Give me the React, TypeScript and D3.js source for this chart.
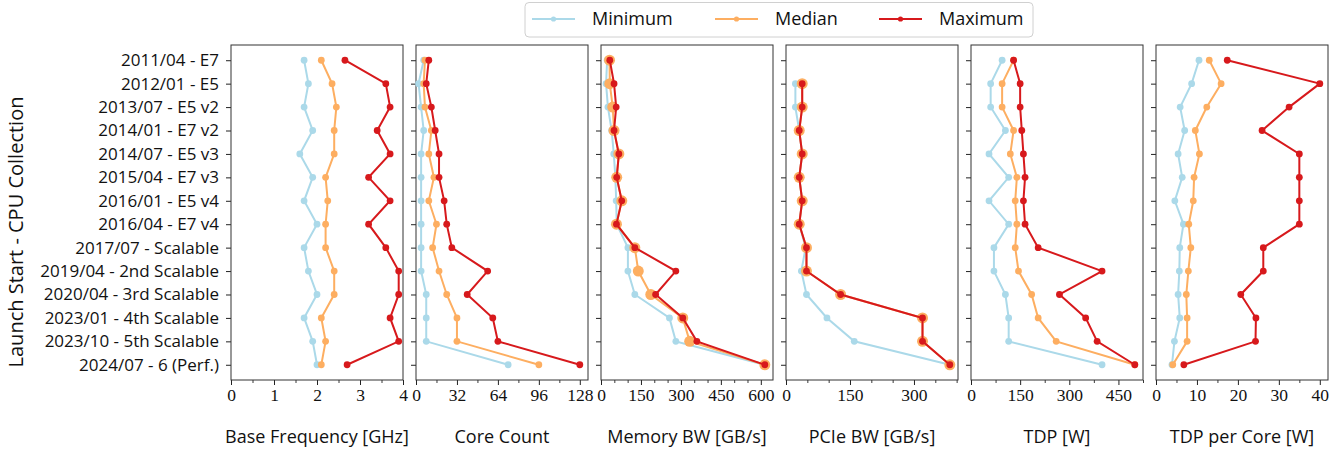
import React, { useEffect, useRef } from 'react';
import * as d3 from 'd3';

// launch generations (y axis, top to bottom)
const categories = [
  '2011/04 - E7',
  '2012/01 - E5',
  '2013/07 - E5 v2',
  '2014/01 - E7 v2',
  '2014/07 - E5 v3',
  '2015/04 - E7 v3',
  '2016/01 - E5 v4',
  '2016/04 - E7 v4',
  '2017/07 - Scalable',
  '2019/04 - 2nd Scalable',
  '2020/04 - 3rd Scalable',
  '2023/01 - 4th Scalable',
  '2023/10 - 5th Scalable',
  '2024/07 - 6 (Perf.)',
];

const seriesNames = ['Minimum', 'Median', 'Maximum'];

const freqMin = [1.7, 1.8, 1.7, 1.9, 1.6, 1.9, 1.7, 2.0, 1.7, 1.8, 2.0, 1.7, 1.9, 2.0];
const freqMed = [2.1, 2.35, 2.45, 2.4, 2.4, 2.2, 2.25, 2.2, 2.2, 2.4, 2.4, 2.1, 2.2, 2.1];
const freqMax = [2.65, 3.6, 3.7, 3.4, 3.7, 3.2, 3.7, 3.2, 3.6, 3.9, 3.9, 3.7, 3.9, 2.7];

const coresMin = [6, 2, 4, 6, 4, 4, 4, 4, 4, 4, 8, 8, 8, 72];
const coresMed = [7, 6, 7, 12, 10, 14, 10, 16, 13, 18, 24, 32, 32, 96];
const coresMax = [10, 8, 12, 15, 18, 18, 22, 24, 28, 56, 40, 60, 64, 128];

const memMin = [23, 19, 26, 40, 48, 54, 57, 59, 101, 101, 127, 257, 281, 614];
const memMed = [32, 33, 44, 49, 67, 59, 78, 58, 127, 140, 187, 307, 333, 615];
const memMax = [33, 49, 57, 49, 67, 59, 78, 58, 127, 281, 205, 307, 360, 615];

const pcieMin = [null, 22, 22, 31, 38, 31, 38, 31, 46, 36, 48, 96, 160, 384];
const pcieMed = [null, 38, 38, 31, 38, 31, 38, 31, 48, 48, 128, 320, 320, 384];
const pcieMax = [null, 38, 38, 31, 38, 31, 38, 31, 48, 48, 128, 320, 320, 384];

const tdpMin = [95, 60, 60, 105, 55, 115, 55, 115, 70, 70, 105, 115, 115, 400];
const tdpMed = [130, 95, 95, 130, 120, 140, 135, 140, 135, 145, 185, 205, 260, 500];
const tdpMax = [130, 150, 150, 155, 160, 165, 160, 165, 205, 400, 270, 350, 385, 500];

const tdpCoreMin = [10.5, 8.7, 5.9, 7.0, 5.4, 6.4, 4.6, 6.7, 5.8, 5.7, 5.4, 5.8, 4.5, 3.9];
const tdpCoreMed = [13.0, 15.9, 12.4, 9.6, 10.6, 9.3, 9.1, 8.0, 8.5, 7.9, 7.4, 7.6, 7.6, 4.1];
const tdpCoreMax = [17.4, 40, 32.5, 25.9, 35, 35, 35, 35, 26.2, 26.2, 20.7, 24.4, 24.3, 6.8];

const titles = [
  'Base Frequency [GHz]',
  'Core Count',
  'Memory BW [GB/s]',
  'PCIe BW [GB/s]',
  'TDP [W]',
  'TDP per Core [W]',
];
const tickValues = [
  [0, 1, 2, 3, 4],
  [0, 32, 64, 96, 128],
  [0, 150, 300, 450, 600],
  [0, 150, 300],
  [0, 150, 300, 450],
  [0, 10, 20, 30, 40],
];
const minorSteps = [0.5, 16, 50, 50, 75, 5];

const panelData = [
  [freqMin, freqMed, freqMax],
  [coresMin, coresMed, coresMax],
  [memMin, memMed, memMax],
  [pcieMin, pcieMed, pcieMax],
  [tdpMin, tdpMed, tdpMax],
  [tdpCoreMin, tdpCoreMed, tdpCoreMax],
];

const colors = ['#abd9e9', '#fdae61', '#d7191c'];

const sans = "'Open Sans', 'Noto Sans', sans-serif";
const serif = "'Liberation Serif', 'DejaVu Serif', serif";

const App = () => {
  const ref = useRef<SVGSVGElement>(null);

  useEffect(() => {
    const svg = d3.select(ref.current);
    svg.selectAll('*').remove();

    const top = 45;
    const bottom = 380;
    const panelW = 172;
    const panelStep = 185;
    const firstLeft = 231;

    const y = d3.scalePoint<string>()
      .domain(categories)
      .range([top, bottom])
      .padding(0.65);

    panelData.forEach((series, p) => {
      const left = firstLeft + p * panelStep;
      const allVals = series.flat().filter(v => v != null) as number[];
      const xMax = p === 0 ? 4 : d3.max(allVals)! * 1.05;
      const x = d3.scaleLinear().domain([0, xMax]).range([left, left + panelW]);

      const g = svg.append('g');

      // minor ticks
      const minor = d3.range(0, xMax + 1e-9, minorSteps[p]).filter(v => !tickValues[p].includes(v));
      g.append('g')
        .attr('transform', `translate(0,${bottom})`)
        .call(d3.axisBottom(x).tickValues(minor).tickSize(3).tickSizeOuter(0).tickFormat(() => ''))
        .call(a => a.select('.domain').remove())
        .selectAll('line').attr('stroke', '#222').attr('stroke-width', 0.9);

      // major ticks
      const xa = g.append('g')
        .attr('transform', `translate(0,${bottom})`)
        .call(d3.axisBottom(x).tickValues(tickValues[p]).tickSize(5).tickSizeOuter(0).tickPadding(4).tickFormat(d3.format('d')));
      xa.select('.domain').remove();
      xa.selectAll('line').attr('stroke', '#222').attr('stroke-width', 1);
      xa.selectAll('text')
        .attr('fill', '#111')
        .style('font-family', serif)
        .style('font-size', '17.5px');

      // y ticks
      const ya = g.append('g')
        .attr('transform', `translate(${left},0)`)
        .call(d3.axisLeft(y).tickSize(5).tickSizeOuter(0).tickPadding(7));
      ya.select('.domain').remove();
      ya.selectAll('line').attr('stroke', '#222').attr('stroke-width', 1);
      if (p === 0) {
        ya.selectAll('text')
          .attr('fill', '#111')
          .style('font-family', sans)
          .style('font-size', '17px');
      } else {
        ya.selectAll('text').remove();
      }

      // frame
      g.append('rect')
        .attr('x', left)
        .attr('y', top)
        .attr('width', panelW)
        .attr('height', bottom - top)
        .attr('fill', 'none')
        .attr('stroke', '#333')
        .attr('stroke-width', 1);

      // x title
      g.append('text')
        .attr('x', left + panelW / 2)
        .attr('y', 443)
        .attr('text-anchor', 'middle')
        .attr('fill', '#111')
        .style('font-family', sans)
        .style('font-size', '18px')
        .text(titles[p]);

      series.forEach((vals, s) => {
        const pts = vals
          .map((v, i) => ({ v, c: categories[i] }))
          .filter(d => d.v != null) as { v: number; c: string }[];
        const line = d3.line<{ v: number; c: string }>()
          .x(d => x(d.v))
          .y(d => y(d.c)!);
        g.append('path')
          .datum(pts)
          .attr('d', line)
          .attr('fill', 'none')
          .attr('stroke', colors[s])
          .attr('stroke-width', 2);
        const r = s === 1 && (p === 2 || p === 3) ? 5.5 : 3.4;
        g.selectAll(`.m${s}`)
          .data(pts)
          .enter().append('circle')
          .attr('class', `m${s}`)
          .attr('cx', d => x(d.v))
          .attr('cy', d => y(d.c)!)
          .attr('r', r)
          .attr('fill', colors[s]);
      });
    });

    // y title
    svg.append('text')
      .attr('transform', 'translate(23,232) rotate(-90)')
      .attr('text-anchor', 'middle')
      .attr('fill', '#111')
      .style('font-family', sans)
      .style('font-size', '20px')
      .text('Launch Start - CPU Collection');

    // legend
    const lg = svg.append('g');
    lg.append('rect')
      .attr('x', 525)
      .attr('y', 2.5)
      .attr('width', 508)
      .attr('height', 34.5)
      .attr('rx', 4)
      .attr('fill', 'white')
      .attr('stroke', '#d0d0d0')
      .attr('stroke-width', 1);
    const legendX = [532, 715, 879];
    seriesNames.forEach((name, s) => {
      const lx = legendX[s];
      lg.append('line')
        .attr('x1', lx).attr('x2', lx + 43)
        .attr('y1', 19).attr('y2', 19)
        .attr('stroke', colors[s])
        .attr('stroke-width', 2);
      lg.append('circle')
        .attr('cx', lx + 21.5).attr('cy', 19).attr('r', 2.6)
        .attr('fill', colors[s]);
      lg.append('text')
        .attr('x', lx + 60)
        .attr('y', 19)
        .attr('dy', '0.35em')
        .attr('fill', '#111')
        .style('font-family', sans)
        .style('font-size', '18px')
        .text(name);
    });
  }, []);

  return (
    <svg
      ref={ref}
      width={1338}
      height={450}
      style={{ position: 'absolute', left: 0, top: 0, background: 'white' }}
    ></svg>
  );
};

export default App;
